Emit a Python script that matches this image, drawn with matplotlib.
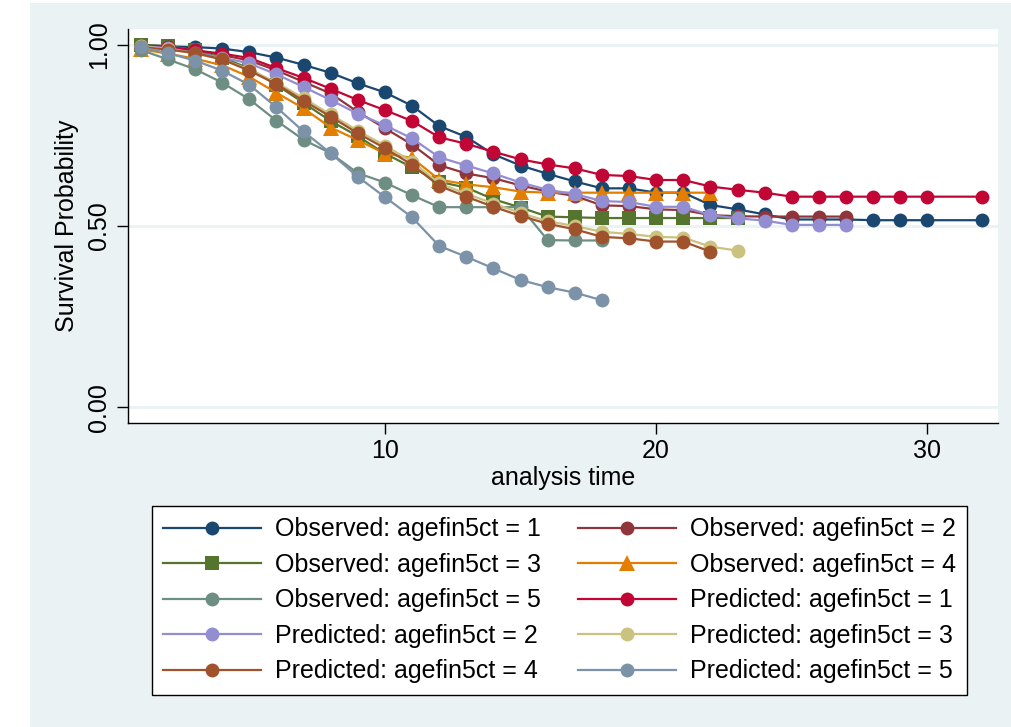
import matplotlib
matplotlib.use("Agg")
import matplotlib.pyplot as plt
from matplotlib.patches import Rectangle

# survival curves by age group, observed (KM) vs predicted
t_long = list(range(1, 31)) + [32]
t_27 = list(range(1, 28))
t_23 = list(range(1, 24))
t_22 = list(range(1, 23))
t_18 = list(range(1, 19))

obs1 = [1.000, 0.996, 0.994, 0.990, 0.980, 0.965, 0.945, 0.923, 0.894, 0.869,
        0.832, 0.776, 0.746, 0.698, 0.667, 0.644, 0.623, 0.604, 0.604, 0.592,
        0.592, 0.558, 0.546, 0.532, 0.518, 0.518, 0.518, 0.516, 0.516, 0.516, 0.516]
obs2 = [0.997, 0.994, 0.985, 0.972, 0.957, 0.930, 0.898, 0.866, 0.815, 0.770,
        0.725, 0.668, 0.645, 0.632, 0.612, 0.595, 0.583, 0.557, 0.555, 0.546,
        0.544, 0.530, 0.527, 0.526, 0.526, 0.526, 0.526]
obs3 = [1.000, 0.997, 0.985, 0.965, 0.935, 0.890, 0.840, 0.790, 0.748, 0.700,
        0.662, 0.622, 0.606, 0.574, 0.551, 0.526, 0.524, 0.522, 0.522, 0.522,
        0.522, 0.522, 0.522]
obs4 = [0.988, 0.976, 0.962, 0.944, 0.912, 0.868, 0.825, 0.772, 0.737, 0.700,
        0.688, 0.628, 0.615, 0.607, 0.595, 0.592, 0.592, 0.592, 0.592, 0.592,
        0.592, 0.592]
obs5 = [0.986, 0.960, 0.933, 0.896, 0.850, 0.791, 0.738, 0.701, 0.646, 0.620,
        0.585, 0.552, 0.552, 0.552, 0.552, 0.461, 0.460, 0.460]

pred1 = [0.998, 0.995, 0.985, 0.976, 0.964, 0.936, 0.909, 0.879, 0.848, 0.820,
         0.790, 0.745, 0.727, 0.705, 0.684, 0.670, 0.659, 0.641, 0.638, 0.627,
         0.627, 0.609, 0.600, 0.592, 0.581, 0.581, 0.581, 0.581, 0.581, 0.581, 0.581]
pred2 = [0.997, 0.991, 0.978, 0.965, 0.949, 0.919, 0.884, 0.848, 0.810, 0.778,
         0.742, 0.690, 0.667, 0.645, 0.620, 0.600, 0.588, 0.569, 0.566, 0.553,
         0.553, 0.530, 0.521, 0.515, 0.503, 0.503, 0.503]
pred3 = [0.996, 0.989, 0.976, 0.960, 0.932, 0.896, 0.853, 0.808, 0.763, 0.722,
         0.678, 0.618, 0.589, 0.562, 0.536, 0.513, 0.500, 0.484, 0.478, 0.470,
         0.468, 0.443, 0.432]
pred4 = [0.994, 0.987, 0.978, 0.960, 0.929, 0.892, 0.846, 0.802, 0.756, 0.715,
         0.669, 0.611, 0.581, 0.553, 0.528, 0.506, 0.491, 0.470, 0.466, 0.457,
         0.457, 0.429]
pred5 = [0.994, 0.977, 0.957, 0.929, 0.890, 0.828, 0.761, 0.701, 0.636, 0.580,
         0.524, 0.445, 0.415, 0.383, 0.351, 0.331, 0.316, 0.295]

labels = ["Observed: agefin5ct = 1", "Observed: agefin5ct = 2",
          "Observed: agefin5ct = 3", "Observed: agefin5ct = 4",
          "Observed: agefin5ct = 5", "Predicted: agefin5ct = 1",
          "Predicted: agefin5ct = 2", "Predicted: agefin5ct = 3",
          "Predicted: agefin5ct = 4", "Predicted: agefin5ct = 5"]

# s2color palette
colors = ["#1A476F", "#90353B", "#55752F", "#E37E00", "#6E8E84",
          "#C10534", "#938DD2", "#CAC27E", "#A0522D", "#7B92A8"]
markers = ["o", "o", "s", "^", "o", "o", "o", "o", "o", "o"]

BG = "#EAF2F3"


def main():
    plt.rcParams['font.family'] = ['Liberation Sans', 'DejaVu Sans']

    fig = plt.figure(figsize=(10.12, 7.27), dpi=100)
    fig.patches.append(Rectangle((30 / 1012, 0), 1, 1 - 3 / 727,
                                 transform=fig.transFigure, facecolor=BG,
                                 edgecolor="none", zorder=-10))

    ax = fig.add_axes([128 / 1012, 1 - 423 / 727, 870 / 1012, 394 / 727])
    ax.set_facecolor("white")

    series = [(t_long, obs1), (t_27, obs2), (t_23, obs3), (t_22, obs4), (t_18, obs5),
              (t_long, pred1), (t_27, pred2), (t_23, pred3), (t_22, pred4), (t_18, pred5)]
    handles = []
    for (t, y), c, m, lab in zip(series, colors, markers, labels):
        ms = 11 if m == "^" else 10
        if m == "s":
            ms = 9.5
        h, = ax.plot(t, y, color=c, marker=m, markersize=ms, linewidth=1.6,
                     markeredgewidth=0, label=lab)
        handles.append(h)

    ax.set_xlim(0.53, 32.6)
    ax.set_ylim(-0.044, 1.044)
    ax.set_xticks([10, 20, 30])
    ax.set_yticks([0, 0.5, 1.0])
    ax.set_yticklabels(["0.00", "0.50", "1.00"], rotation=90, va="center")
    ax.tick_params(axis="both", labelsize=18, length=8, width=1, color="black")
    ax.tick_params(axis="y", pad=4)

    for yv in [0, 0.5, 1.0]:
        ax.axhline(yv, color=BG, linewidth=2, zorder=0)

    for side in ["top", "right"]:
        ax.spines[side].set_visible(False)
    for side in ["left", "bottom"]:
        ax.spines[side].set_color("black")
        ax.spines[side].set_linewidth(1)

    ax.set_xlabel("analysis time", fontsize=18, labelpad=2)
    ax.set_ylabel("Survival Probability", fontsize=18, labelpad=6)

    # legend reads across rows, so feed it column by column
    order = [0, 2, 4, 6, 8, 1, 3, 5, 7, 9]
    leg = fig.legend([handles[i] for i in order], [labels[i] for i in order],
                     loc="upper left", bbox_to_anchor=(152 / 1012, 1 - 506 / 727),
                     ncol=2, fontsize=18, frameon=True, fancybox=False,
                     edgecolor="black", facecolor="white", framealpha=1,
                     handlelength=3.9, handletextpad=0.56, columnspacing=1.5,
                     labelspacing=0.46, borderpad=0.45, borderaxespad=0)
    leg.get_frame().set_linewidth(1)

    fig.savefig("out.png", dpi=100, facecolor="white")


if __name__ == "__main__":
    main()
